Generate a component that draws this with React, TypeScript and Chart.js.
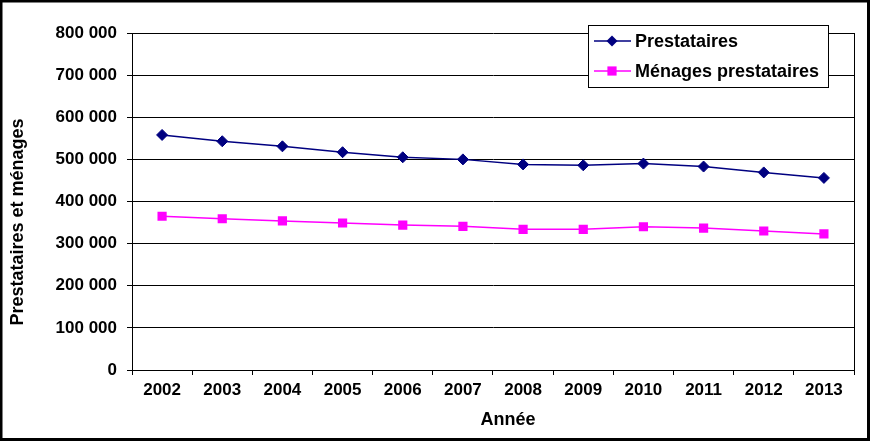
import React, { useEffect, useRef } from "react";
import { Chart, registerables } from "chart.js";

Chart.register(...registerables);

const years = ["2002", "2003", "2004", "2005", "2006", "2007", "2008", "2009", "2010", "2011", "2012", "2013"];
const prestataires = [558000, 543000, 531000, 517000, 505000, 500000, 488000, 486000, 490000, 483000, 469000, 456000];
const menages = [365000, 359000, 354000, 349000, 344000, 341000, 334000, 334000, 340000, 337000, 330000, 323000];
const yTitle = "Prestataires et ménages";
const xTitle = "Année";
const seriesNames = ["Prestataires", "Ménages prestataires"];

const FONT = "'Liberation Sans', Arial, sans-serif";

const fmt = (v: number) => {
  if (v === 0) return "0";
  const s = Math.round(v).toString();
  return s.replace(/\B(?=(\d{3})+(?!\d))/g, " ");
};

const framePlugin = {
  id: "frame",
  beforeDraw(chart: any) {
    const ctx = chart.ctx;
    ctx.save();
    ctx.fillStyle = "#fff";
    ctx.fillRect(0, 0, chart.width, chart.height);
    ctx.restore();
  },
  afterDraw(chart: any) {
    const ctx = chart.ctx;
    const a = chart.chartArea;
    ctx.save();
    // plot right border
    ctx.strokeStyle = "#000";
    ctx.lineWidth = 1;
    ctx.beginPath();
    ctx.moveTo(Math.round(a.right) + 0.5, a.top);
    ctx.lineTo(Math.round(a.right) + 0.5, a.bottom);
    ctx.stroke();
    // outer frame
    ctx.lineWidth = 3;
    ctx.strokeRect(1, 1, 867.5, 438.5);
    // axis titles
    ctx.fillStyle = "#000";
    ctx.font = `bold 18px ${FONT}`;
    ctx.textAlign = "center";
    ctx.textBaseline = "middle";
    ctx.fillText(xTitle, 508, 420);
    ctx.translate(18, 222);
    ctx.rotate(-Math.PI / 2);
    ctx.fillText(yTitle, 0, 0);
    ctx.restore();

    // legend
    ctx.save();
    const lx = 588, ly = 25, lw = 240, lh = 62;
    ctx.fillStyle = "#fff";
    ctx.fillRect(lx, ly, lw, lh);
    ctx.strokeStyle = "#000";
    ctx.lineWidth = 1;
    ctx.strokeRect(lx + 0.5, ly + 0.5, lw, lh);
    chart.data.datasets.forEach((ds: any, i: number) => {
      const y = 41 + i * 30;
      ctx.strokeStyle = ds.borderColor;
      ctx.lineWidth = 1.5;
      ctx.beginPath();
      ctx.moveTo(594, y);
      ctx.lineTo(631, y);
      ctx.stroke();
      ctx.fillStyle = ds.pointBackgroundColor;
      ctx.beginPath();
      if (ds.pointStyle === "rectRot") {
        const r = 5.5;
        ctx.moveTo(612, y - r);
        ctx.lineTo(612 + r, y);
        ctx.lineTo(612, y + r);
        ctx.lineTo(612 - r, y);
        ctx.closePath();
      } else {
        const s = 4.6;
        ctx.rect(612 - s, y - s, 2 * s, 2 * s);
      }
      ctx.fill();
      ctx.fillStyle = "#000";
      ctx.font = `bold 18px ${FONT}`;
      ctx.textAlign = "left";
      ctx.textBaseline = "middle";
      ctx.fillText(ds.label, 635, y + 1);
    });
    ctx.restore();
  },
};

export default function App() {
  const ref = useRef<HTMLCanvasElement>(null);
  useEffect(() => {
    document.body.style.margin = "0";
    const chart = new Chart(ref.current!, {
      type: "line",
      data: {
        labels: years,
        datasets: [
          {
            label: seriesNames[0],
            data: prestataires,
            borderColor: "#000080",
            backgroundColor: "#000080",
            pointBackgroundColor: "#000080",
            pointBorderColor: "#000080",
            pointStyle: "rectRot",
            pointRadius: 5.5,
            pointBorderWidth: 1,
            borderWidth: 1.5,
            tension: 0,
          },
          {
            label: seriesNames[1],
            data: menages,
            borderColor: "#FF00FF",
            backgroundColor: "#FF00FF",
            pointBackgroundColor: "#FF00FF",
            pointBorderColor: "#FF00FF",
            pointStyle: "rect",
            pointRadius: 6.5,
            pointBorderWidth: 0,
            borderWidth: 1.5,
            tension: 0,
          },
        ],
      },
      options: {
        animation: false,
        responsive: false,
        devicePixelRatio: 1,
        layout: { padding: { top: 33, right: 19, left: 0, bottom: 0 } },
        plugins: { legend: { display: false }, tooltip: { enabled: false } },
        scales: {
          x: {
            type: "category",
            offset: true,
            grid: { offset: true, drawOnChartArea: false, drawTicks: true, tickLength: 5, color: "#000", lineWidth: 1 },
            border: { display: true, color: "#000", width: 1 },
            ticks: { color: "#000", font: { family: FONT, size: 17, weight: "bold" }, padding: 5, maxRotation: 0, autoSkip: false },
            afterFit: (s: any) => { s.height = 72; },
          },
          y: {
            min: 0,
            max: 800000,
            ticks: {
              stepSize: 100000,
              color: "#000",
              font: { family: FONT, size: 17, weight: "bold" },
              padding: 10,
              callback: (v: any) => fmt(Number(v)),
            },
            grid: { color: "#000", lineWidth: 1, tickLength: 5, drawTicks: true },
            border: { display: true, color: "#000", width: 1 },
            afterFit: (s: any) => { s.width = 132; },
          },
        },
      },
      plugins: [framePlugin],
    });
    return () => chart.destroy();
  }, []);
  return (
    <div style={{ width: 873, height: 442 }}>
      <canvas ref={ref} width={873} height={442} />
    </div>
  );
}
